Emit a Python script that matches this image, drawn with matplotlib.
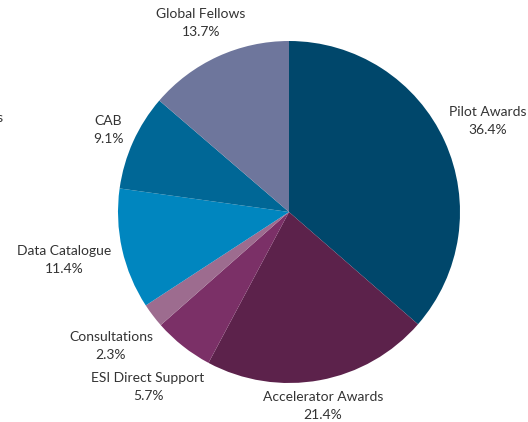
import matplotlib.pyplot as plt

# datos del grafico (sentido horario desde las 12)
categories = ['Pilot Awards', 'Accelerator Awards', 'ESI Direct Support', 'Consultations',
              'Data Catalogue', 'CAB', 'Global Fellows']
shares = [36.4, 21.4, 5.7, 2.3, 11.4, 9.1, 13.7]
colors = ['#00476b', '#5c224b', '#7b3067', '#9d6c8f', '#0086bf', '#006796', '#6e769c']

# posiciones de las etiquetas en pixeles (x, y desde arriba)
label_pos = [(488, 121), (323, 406), (148, 387), (111, 346), (64, 260), (108, 130), (201, 23)]

W, H = 528, 422
fig = plt.figure(figsize=(W / 100, H / 100), dpi=100)
ax = fig.add_axes([0, 0, 1, 1])

ax.pie(shares, colors=colors, startangle=90, counterclock=False,
       center=(289, H - 212), radius=171, frame=True,
       wedgeprops={'linewidth': 0})
ax.set_xlim(0, W)
ax.set_ylim(0, H)
ax.set_aspect('equal')
ax.axis('off')

for name, val, (x, y) in zip(categories, shares, label_pos):
    ax.text(x, H - y, f'{name}\n{val}%', ha='center', va='center',
            fontsize=10, family='Lato', color='#333333', linespacing=1.65)

# etiqueta cortada en el borde izquierdo
ax.text(4, H - 118, 'Awards', ha='right', va='center', fontsize=10,
        family='Lato', color='#333333')

fig.savefig('out.png', dpi=100)
